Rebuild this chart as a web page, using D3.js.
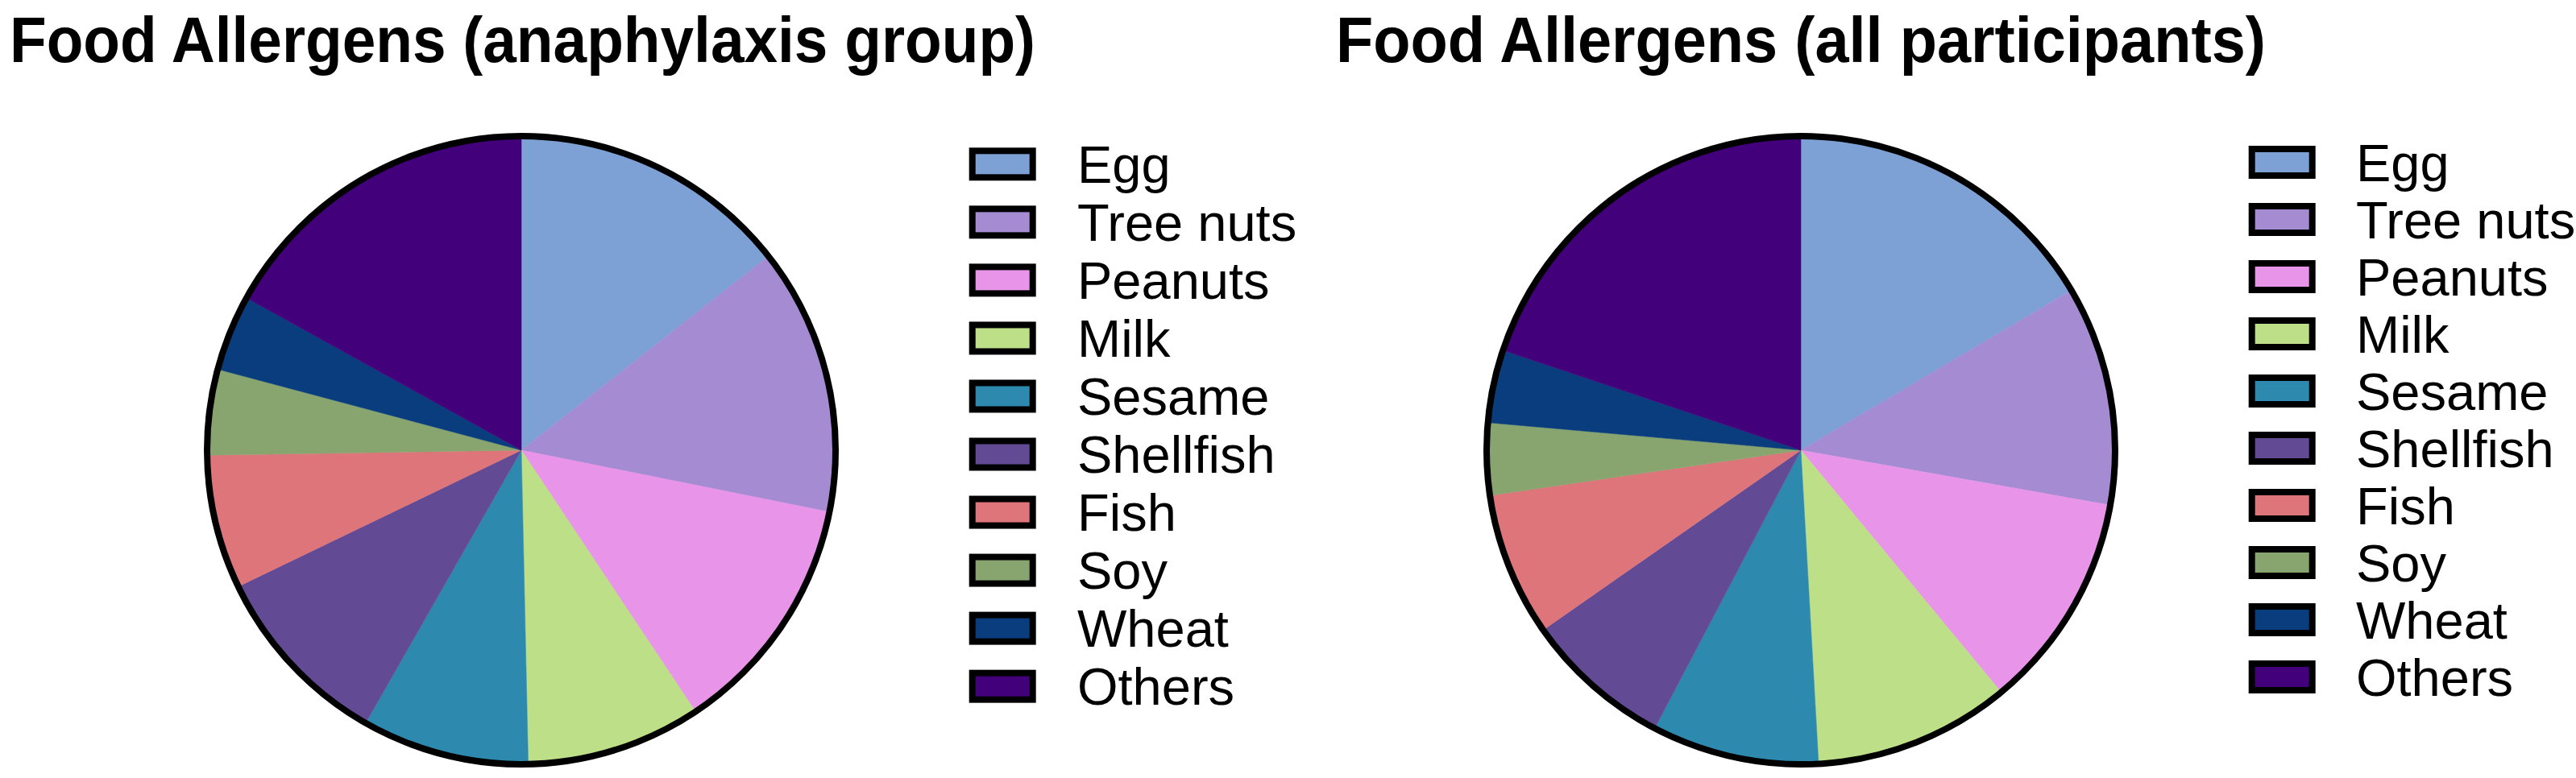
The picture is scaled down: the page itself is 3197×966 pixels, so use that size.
<!DOCTYPE html>
<html>
<head>
<meta charset="utf-8">
<script src="https://cdn.jsdelivr.net/npm/d3@7/dist/d3.min.js"></script>
<style>
  html, body { margin: 0; padding: 0; background: #ffffff; }
  svg { display: block; }
</style>
</head>
<body>
<div id="chart"></div>
<script>
// ---- data (percent of slices) ----
const categories = ["Egg", "Tree nuts", "Peanuts", "Milk", "Sesame", "Shellfish", "Fish", "Soy", "Wheat", "Others"];
const anaphylaxisValues = [14.4, 13.75, 12.5, 9.0, 8.6, 9.6, 6.9, 4.4, 3.9, 16.95];
const allParticipantsValues = [16.5, 11.3, 11.2, 10.1, 8.6, 7.6, 7.4, 3.7, 3.75, 19.85];
const colors = ["#7da1d4", "#a58bd2", "#e894e8", "#bcdf88", "#2e89ae", "#634a94", "#dd757a", "#89a56f", "#093d7e", "#42007a"];
const titles = ["Food Allergens (anaphylaxis group)", "Food Allergens (all participants)"];

const W = 3197, H = 966;
const svg = d3.select("#chart").append("svg")
  .attr("width", W).attr("height", H)
  .attr("viewBox", `0 0 ${W} ${H}`);

const color = d3.scaleOrdinal().domain(categories).range(colors);
const pie = d3.pie().sort(null).value(d => d.value);
const R = 390;
const arc = d3.arc().innerRadius(0).outerRadius(R);

const panels = [
  { title: titles[0], values: anaphylaxisValues, titleX: 12, titleLen: 1273, cx: 647, cy: 559,
    legX: 1202.7, legTop: 183.3, legStep: 72.04, textX: 1337 },
  { title: titles[1], values: allParticipantsValues, titleX: 1658, titleLen: 1154, cx: 2235, cy: 559,
    legX: 2790.7, legTop: 181, legStep: 71.0, textX: 2924 }
];

const font = "'Liberation Sans', Arial, Helvetica, sans-serif";

panels.forEach(p => {
  const g = svg.append("g");
  g.append("text")
    .attr("x", p.titleX).attr("y", 77)
    .attr("font-family", font).attr("font-weight", "bold")
    .attr("font-size", 80).attr("fill", "#000")
    .attr("textLength", p.titleLen).attr("lengthAdjust", "spacingAndGlyphs")
    .text(p.title);

  const data = categories.map((c, i) => ({ name: c, value: p.values[i] }));
  const pg = g.append("g").attr("transform", `translate(${p.cx},${p.cy})`);
  pg.selectAll("path.slice").data(pie(data)).enter().append("path")
    .attr("class", "slice")
    .attr("d", arc)
    .attr("fill", d => color(d.data.name))
    .attr("stroke", d => color(d.data.name))
    .attr("stroke-width", 0.5);
  pg.append("circle").attr("r", R)
    .attr("fill", "none").attr("stroke", "#000").attr("stroke-width", 8);

  const boxW = 83, boxH = 41, sw = 8;
  const lg = g.append("g");
  const items = lg.selectAll("g.item").data(categories).enter().append("g")
    .attr("class", "item")
    .attr("transform", (d, i) => `translate(0,${p.legTop + i * p.legStep})`);
  items.append("rect")
    .attr("x", p.legX + sw / 2).attr("y", sw / 2)
    .attr("width", boxW - sw).attr("height", boxH - sw)
    .attr("fill", d => color(d)).attr("stroke", "#000").attr("stroke-width", sw);
  items.append("text")
    .attr("x", p.textX).attr("y", boxH / 2 + 23.3)
    .attr("font-family", font).attr("font-size", 65).attr("fill", "#000")
    .text(d => d);
});
</script>
</body>
</html>
